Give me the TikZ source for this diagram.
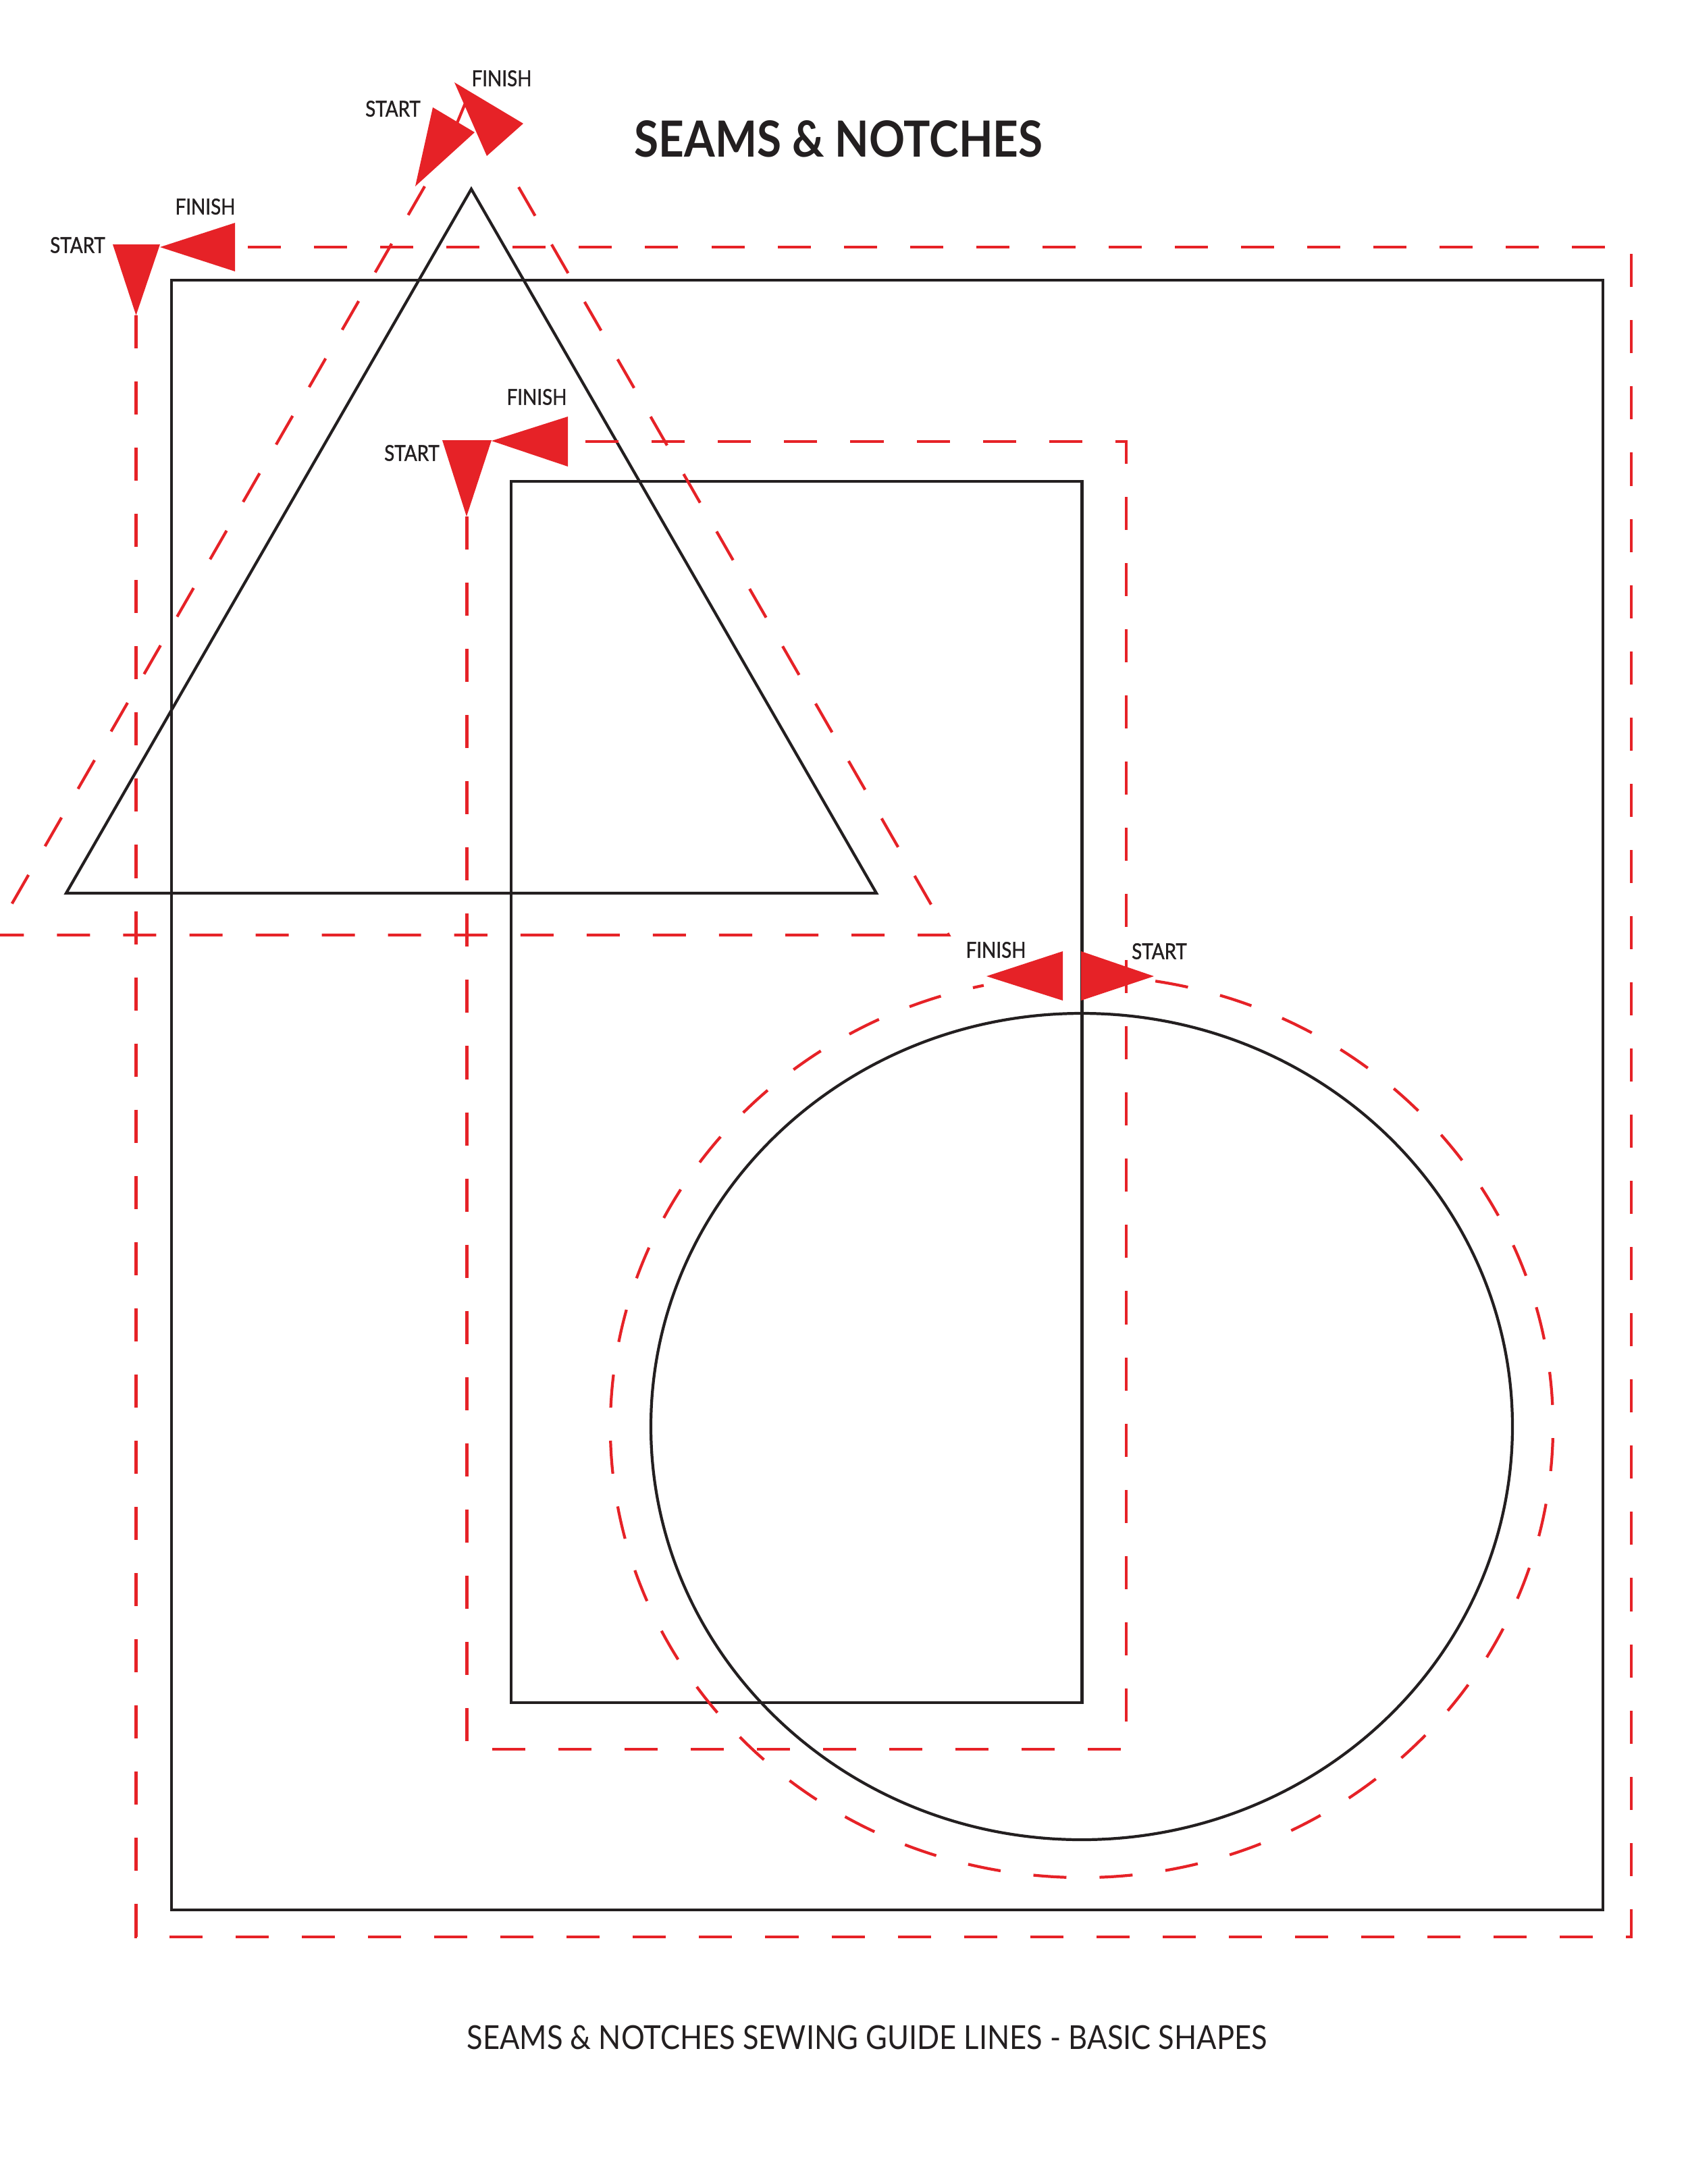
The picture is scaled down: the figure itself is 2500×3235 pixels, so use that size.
\documentclass[tikz,border=0pt]{standalone}
\usepackage{fontspec}
\setmainfont{Lato}
\newfontfamily\notchfont[FakeStretch=0.89]{Lato}
\newfontfamily\tagfont[FakeStretch=0.86, FakeBold=1.2]{Lato}
\definecolor{seamred}{RGB}{230,34,39}
\definecolor{seamblack}{RGB}{35,31,32}

\begin{document}
\begin{tikzpicture}[x=0.01cm, y=-0.01cm,
  seam/.style={draw=seamblack, line width=1.2pt},
  stitch/.style={draw=seamred, line width=1.2pt, dash pattern=on 0.49cm off 0.49cm},
  notch/.style={fill=seamred},
  tag/.style={inner sep=0pt, text=seamblack, font=\tagfont\fontsize{9.2}{9.2}\selectfont}]
  \useasboundingbox (0,0) rectangle (2500,3235);

  \node[inner sep=0pt, text=seamblack, font=\notchfont\bfseries\fontsize{21}{21}\selectfont] (title) at (1242,206) {SEAMS \& NOTCHES};

  \draw[seam] (254,415) rectangle (2374,2829);
  \draw[seam] (757,713) rectangle (1602.5,2522);
  \draw[seam] (698,280) -- (98,1323) -- (1298,1323) -- cycle;
  \draw[seam] (1602,2113) ellipse [x radius=638, y radius=612];

  \draw[stitch] (201.5,467) -- (201.5,2869) -- (2416,2869) -- (2416,366) -- (348,366);
  \draw[stitch] (691.5,765) -- (691.5,2591) -- (1668,2591) -- (1668,654) -- (841,654);
  \draw[stitch] (629,276) -- (-9,1385) -- (1405,1385) -- (745,237);
  \draw[seamred, line width=1.2pt] (689,153) -- (677,182);
  \draw[stitch] (1602,2113) ++(-81:698 and 668) arc [start angle=-81, end angle=258, x radius=698, y radius=668];

  \fill[notch] (167,362) -- (237,362) -- (201.5,467) -- cycle;
  \fill[notch] (237,366) -- (348,330) -- (348,402) -- cycle;
  \fill[notch] (655,652) -- (728,652) -- (691,765) -- cycle;
  \fill[notch] (728,653) -- (841,617) -- (841,691) -- cycle;
  \fill[notch] (641,159) -- (703,196) -- (615,276) -- cycle;
  \fill[notch] (673,122) -- (775,183) -- (721,231) -- cycle;
  \fill[notch] (1461,1446) -- (1574,1409) -- (1574,1482) -- cycle;
  \fill[notch] (1601,1409) -- (1601,1482) -- (1709,1446) -- cycle;

  \node[tag] (sq-start)  at (115,363)  {START};
  \node[tag] (sq-finish) at (304,306)  {FINISH};
  \node[tag] (tri-start)  at (582,161) {START};
  \node[tag] (tri-finish) at (743,116) {FINISH};
  \node[tag] (rect-start)  at (610,671) {START};
  \node[tag] (rect-finish) at (795,588) {FINISH};
  \node[tag] (circ-finish) at (1475,1407) {FINISH};
  \node[tag] (circ-start)  at (1717,1409) {START};

  \node[inner sep=0pt, text=seamblack, font=\notchfont\fontsize{13.9}{13.9}\selectfont] (footer) at (1284,3018) {SEAMS \& NOTCHES SEWING GUIDE LINES - BASIC SHAPES};
\end{tikzpicture}
\end{document}
